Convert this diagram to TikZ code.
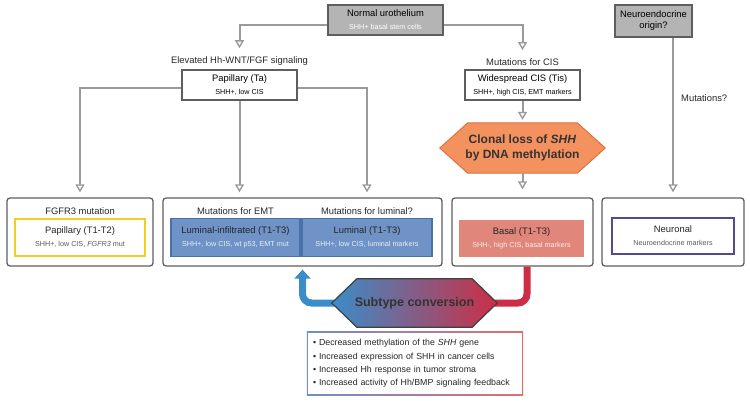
\documentclass[tikz,border=0pt]{standalone}
\usepackage{fontspec}
\setmainfont{Liberation Sans}
\usetikzlibrary{arrows.meta,positioning,calc,backgrounds}

\definecolor{linegray}{HTML}{9A9A9A}
\definecolor{boxgray}{HTML}{B4B4B4}
\definecolor{edgegray}{HTML}{5E5E5E}
\definecolor{papyellow}{HTML}{F2CF1F}
\definecolor{lumblue}{HTML}{6F93C6}
\definecolor{lumedge}{HTML}{4A72A8}
\definecolor{basalred}{HTML}{E0867A}
\definecolor{neupurple}{HTML}{58498A}
\definecolor{clonalorange}{HTML}{F4925F}
\definecolor{clonaledge}{HTML}{E0703C}
\definecolor{convblue}{HTML}{3A8DC9}
\definecolor{convred}{HTML}{CD2E45}
\definecolor{noteblue}{HTML}{6E8FCB}
\definecolor{notered}{HTML}{E06E70}

\newcommand{\smalltxt}[1]{{\fontsize{7.2}{9}\selectfont #1}}

\begin{document}
\begin{tikzpicture}[
  x=1pt, y=-1pt,
  font=\fontsize{9.4}{11}\selectfont,
  >={Triangle[open,length=8pt,width=9pt,line width=1.4pt]},
  box/.style={draw=edgegray,line width=1.2pt,minimum height=30pt,align=center,inner sep=1pt},
  start/.style={box,fill=boxgray},
  stage/.style={box,fill=white,minimum width=115pt},
  group/.style={draw=edgegray,line width=1.3pt,rounded corners=3pt,minimum height=68pt},
  sub/.style={minimum height=38pt,align=center,inner sep=1pt,line width=1.2pt,text=black!85},
  lbl/.style={inner sep=1pt,text=black!85},
  flow/.style={draw=linegray,line width=2pt,->},
  hexlbl/.style={font=\bfseries\fontsize{12}{15}\selectfont,align=center,inner sep=0pt,minimum width=165pt,text=black!80}
]
\useasboundingbox (0,0) rectangle (750,401);

% ---- Origins ----
\node[start, minimum width=115pt] (normal) at (385.5,20)
  {Normal urothelium\\[2pt]\smalltxt{\color{white}SHH+ basal stem cells}};
\node[start, minimum width=77pt, minimum height=32pt] (neuro) at (653.5,21)
  {Neuroendocrine\\origin?};

% ---- Early lesions ----
\node[stage] (pta) at (239.5,85) {Papillary (Ta)\\[2pt]\smalltxt{SHH+, low CIS}};
\node[stage] (tis) at (522.5,85) {Widespread CIS (Tis)\\[2pt]\smalltxt{SHH+, high CIS, EMT markers}};
\node[lbl, above=3pt of pta] (hhsig) {Elevated Hh-WNT/FGF signaling};
\node[lbl, above=3pt of tis] (cismut) {Mutations for CIS};
\node[lbl, anchor=west] (mutq) at (680,98) {Mutations?};

\node[hexlbl, minimum height=50pt] (clonal) at (522.5,148)
  {Clonal loss of \textit{SHH}\\by DNA methylation};

% ---- Subtypes ----
\node[group, minimum width=146pt] (fgfrbox) at (80,232) {};
\node[group, minimum width=279pt] (lumbox) at (302.5,232) {};
\node[group, minimum width=141pt] (basbox) at (522.5,232) {};
\node[group, minimum width=142pt] (neubox) at (673,232) {};

\node[sub, draw=papyellow, line width=1.5pt, minimum width=130pt, minimum height=37pt] (pap12) at (80,237.5)
  {Papillary (T1-T2)\\[2pt]\smalltxt{\color{black!65}SHH+, low CIS, \textit{FGFR3} mut}};
\node[sub, draw=lumedge, fill=lumblue, minimum width=129pt] (lumi) at (235.5,237.5)
  {Luminal-infiltrated (T1-T3)\\[2pt]\smalltxt{\color{white!85!lumblue}SHH+, low CIS, wt p53, EMT mut}};
\node[sub, draw=lumedge, fill=lumblue, minimum width=130pt] (lum) at (367,237.5)
  {Luminal (T1-T3)\\[2pt]\smalltxt{\color{white!85!lumblue}SHH+, low CIS, luminal markers}};
\node[sub, fill=basalred, minimum width=125pt, minimum height=37pt] (basal) at (521.5,238.5)
  {Basal (T1-T3)\\[2pt]\smalltxt{\color{white!88!basalred}SHH-, high CIS, basal markers}};
\node[sub, draw=neupurple, line width=1.3pt, minimum width=122pt, minimum height=36pt] (neur) at (673,236)
  {Neuronal\\[2pt]\smalltxt{\color{black!65}Neuroendocrine markers}};

\node[lbl, above=2pt of pap12] (fgfrlbl) {FGFR3 mutation};
\node[lbl, above=2pt of lumi] (emtlbl) {Mutations for EMT};
\node[lbl, above=2pt of lum] (lumlbl) {Mutations for luminal?};

% ---- Arrows ----
\draw[flow] ([yshift=-5pt]normal.west) -| ([yshift=7pt]hhsig.north);
\draw[flow] ([yshift=-5pt]normal.east) -| ([yshift=7pt]cismut.north);
\draw[flow, shorten >=5pt] ([yshift=-3pt]pta.west) -| (pap12.north |- fgfrbox.north);
\draw[flow, shorten >=5pt] ([yshift=-3pt]pta.east) -| (lum.north |- lumbox.north);
\foreach \a/\b/\s in {pta.south/lumbox.north/5pt, tis.south/clonal.north/3pt,
                      clonal.south/basbox.north/8pt} {
  \draw[flow, shorten >=\s] (\a) -- (\a |- \b);
}
\draw[flow, shorten >=5pt] (neubox.north |- neuro.south) -- (neubox.north);

% ---- Subtype conversion ----
\node[hexlbl, font=\bfseries\fontsize{12.5}{15}\selectfont, minimum height=48pt] (conv) at (414.5,303)
  {Subtype conversion};

\node[align=left, font=\fontsize{8.8}{13.3}\selectfont, text width=204pt, minimum height=63pt,
      inner xsep=6pt, text=black!85] (notes) at (415,363.5)
  {\textbullet{} Decreased methylation of the \textit{SHH} gene\\
   \textbullet{} Increased expression of SHH in cancer cells\\
   \textbullet{} Increased Hh response in tumor stroma\\
   \textbullet{} Increased activity of Hh/BMP signaling feedback};

\begin{scope}[on background layer]
  \draw[clonaledge, fill=clonalorange, line width=1pt]
    (clonal.west) -- ([xshift=28pt]clonal.north west) -- ([xshift=-28pt]clonal.north east)
    -- (clonal.east) -- ([xshift=-28pt]clonal.south east) -- ([xshift=28pt]clonal.south west) -- cycle;
  \draw[convblue, line width=7pt, rounded corners=9pt, shorten >=3pt,
        -{Triangle[length=9pt,width=16pt]}] (conv.center) -| (lumbox.south);
  \draw[convred, line width=7pt, rounded corners=9pt] (conv.center) -| ([xshift=4.5pt]basbox.south);
  \draw[black!75, line width=1.2pt, left color=convblue, right color=convred]
    (conv.west) -- ([xshift=25pt]conv.north west) -- ([xshift=-25pt]conv.north east)
    -- (conv.east) -- ([xshift=-25pt]conv.south east) -- ([xshift=25pt]conv.south west) -- cycle;
  \shade[left color=noteblue, right color=notered] (notes.south west) rectangle (notes.north east);
  \fill[white] ([shift={(1.6pt,1.6pt)}]notes.south west) rectangle ([shift={(-1.6pt,-1.6pt)}]notes.north east);
\end{scope}

\end{tikzpicture}
\end{document}
